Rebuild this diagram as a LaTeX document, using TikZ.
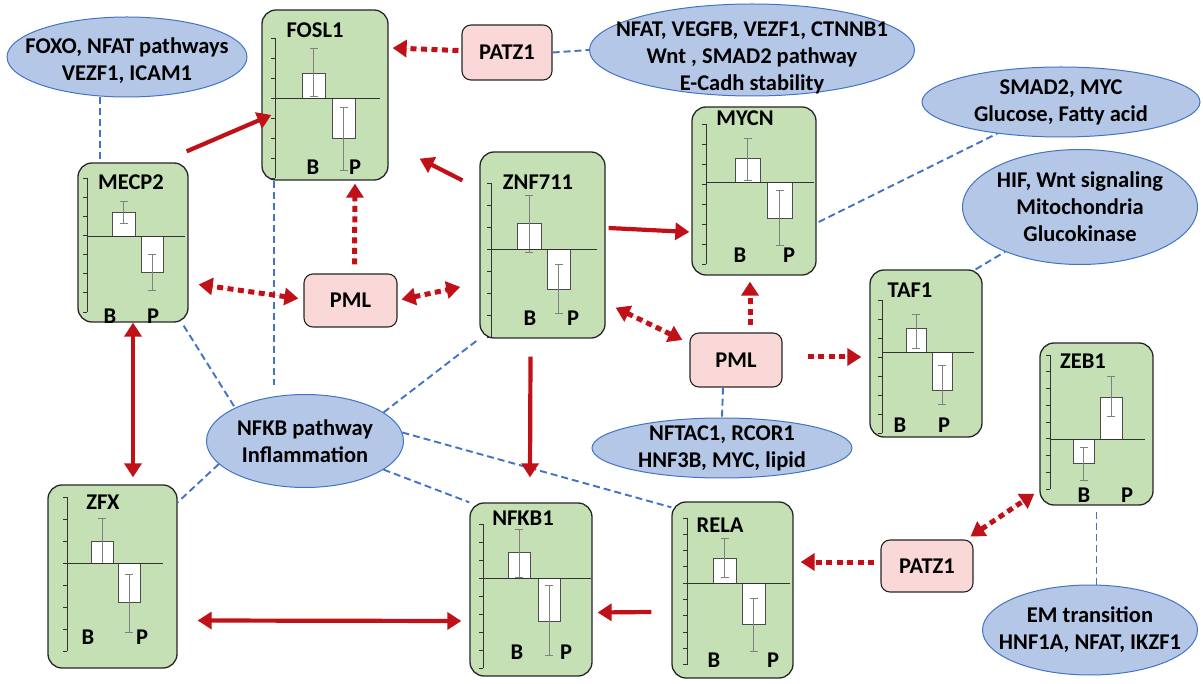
\documentclass[tikz,border=0pt]{standalone}
\usepackage{fontspec}
\setmainfont{Carlito}
\usepackage{tikz}
\usetikzlibrary{arrows.meta, shapes.geometric}
\definecolor{genegreen}{RGB}{197,224,180}
\definecolor{regpink}{RGB}{250,216,216}
\definecolor{pathfill}{RGB}{180,199,231}
\definecolor{pathblue}{RGB}{68,114,196}
\definecolor{arrowred}{RGB}{192,16,24}
\tikzset{
    gene/.style={draw=black!85, line width=1.3pt, rounded corners=14pt, fill=genegreen},
    reg/.style={draw=black!85, line width=1.1pt, rounded corners=9pt, fill=regpink},
    pathway/.style={ellipse, draw=pathblue, line width=1pt, fill=pathfill},
    pathtext/.style={align=center, inner sep=0pt},
    glabel/.style={inner sep=0pt},
    axisline/.style={line width=0.9pt, black!80},
    barbox/.style={draw=black!70, line width=0.9pt, fill=white},
    errbar/.style={line width=0.9pt, gray},
    >={Triangle[length=14pt,width=17pt]},
    act/.style={->, line width=4.2pt, draw=arrowred, fill=arrowred},
    actboth/.style={act, <->},
    dotact/.style={act, line width=5pt, dash pattern=on 6pt off 4.5pt},
    dotboth/.style={dotact, <->},
    link/.style={pathblue, line width=1.9pt, dash pattern=on 7pt off 4pt} }
% axis of a small chart: top, tick step, tick count, zero line length
\newcommand{\chartaxis}[4]{%
  \draw[axisline] (0,#1) -- (0,{#1+(#3-1)*#2});
  \foreach \k in {1,...,#3}
    \draw[axisline] (-4,{#1+(\k-1)*#2}) -- (0,{#1+(\k-1)*#2});
  \draw[axisline] (0,0) -- (#4,0);
}
% one bar: left, right, value, error from, error to
\newcommand{\chartbar}[5]{%
  \draw[barbox] (#1,0) rectangle (#2,#3);
  \draw[errbar] ({(#1+#2)/2},#4) -- ({(#1+#2)/2},#5);
  \draw[errbar] ({(#1+#2)/2-4},#4) -- ({(#1+#2)/2+4},#4);
  \draw[errbar] ({(#1+#2)/2-4},#5) -- ({(#1+#2)/2+4},#5);
}

\begin{document}
\begin{tikzpicture}[x=1pt, y=-1pt, font=\bfseries\fontsize{22.5}{27}\selectfont]
      \useasboundingbox (0,0) rectangle (1203,684);
      % ---- pathways
      \node[pathway, minimum width=240, minimum height=80,
            label={[pathtext, yshift=-4pt]center:{FOXO, NFAT pathways\\VEZF1, ICAM1}}] (foxo) at (127,57) {};
      \node[pathway, minimum width=325, minimum height=92,
            label={[pathtext, yshift=-8pt]center:{NFAT, VEGFB, VEZF1, CTNNB1\\Wnt , SMAD2 pathway\\E-Cadh stability}}] (wnt) at (752,50) {};
      \node[pathway, minimum width=278, minimum height=70,
            label={[pathtext]center:{SMAD2, MYC\\Glucose, Fatty acid}}] (smad) at (1061,102) {};
      \node[pathway, minimum width=235, minimum height=115,
            label={[pathtext]center:{HIF, Wnt signaling\\Mitochondria\\Glucokinase}}] (hif) at (1080,207) {};
      \node[pathway, minimum width=197, minimum height=93,
            label={[pathtext]center:{NFKB pathway\\Inflammation}}] (nfkb) at (305,441) {};
      \node[pathway, minimum width=260, minimum height=60,
            label={[pathtext]center:{NFTAC1, RCOR1\\HNF3B, MYC, lipid}}] (nftac) at (722,448) {};
      \node[pathway, minimum width=215, minimum height=90,
            label={[pathtext]center:{EM transition\\HNF1A, NFAT, IKZF1}}] (em) at (1090,630) {};
      % ---- regulators
      \node[reg, minimum width=90, minimum height=55] (PATZ1a) at (507,52.5) {PATZ1};
      \node[reg, minimum width=93, minimum height=53] (PMLa) at (350.5,300.5) {PML};
      \node[reg, minimum width=92, minimum height=54] (PMLb) at (736,360) {PML};
      \node[reg, minimum width=92, minimum height=52] (PATZ1b) at (927,566) {PATZ1};
      % ---- FOSL1
      \node[gene, minimum width=126, minimum height=170] (FOSL1) at (325,95) {};
      \node[glabel] (FOSL1-name) at (315,30) {FOSL1};
      \begin{scope}[shift={(275,98)}]
        \chartbar{27}{50}{-25}{-50}{-2}
        \chartbar{57}{80}{40}{9}{72}
        \chartaxis{-60}{20}{8}{105}
      \end{scope}
      \node[glabel] (FOSL1-B) at (313,167) {B};
      \node[glabel] (FOSL1-P) at (355,167) {P};
      % ---- MECP2
      \node[gene, minimum width=110, minimum height=159] (MECP2) at (133,242.5) {};
      \node[glabel] (MECP2-name) at (131,182) {MECP2};
      \begin{scope}[shift={(87,236)}]
        \chartbar{25}{48}{-24}{-35}{-13}
        \chartbar{54}{76}{36}{18}{54}
        \chartaxis{-58}{19.14}{8}{98}
      \end{scope}
      \node[glabel] (MECP2-B) at (110,316) {B};
      \node[glabel] (MECP2-P) at (153,316) {P};
      % ---- ZNF711
      \node[gene, minimum width=125, minimum height=186] (ZNF711) at (542.5,245) {};
      \node[glabel] (ZNF711-name) at (538,182) {ZNF711};
      \begin{scope}[shift={(491,249)}]
        \chartbar{26}{50}{-26}{-54}{3}
        \chartbar{56}{79}{40}{15}{64}
        \chartaxis{-66}{22}{8}{106}
      \end{scope}
      \node[glabel] (ZNF711-B) at (530,318) {B};
      \node[glabel] (ZNF711-P) at (573,318) {P};
      % ---- MYCN
      \node[gene, minimum width=124, minimum height=168] (MYCN) at (754,191) {};
      \node[glabel] (MYCN-name) at (745,118) {MYCN};
      \begin{scope}[shift={(706,182)}]
        \chartbar{29}{54}{-24}{-44}{-2}
        \chartbar{61}{86}{36}{8}{63}
        \chartaxis{-58}{20}{8}{108}
      \end{scope}
      \node[glabel] (MYCN-B) at (740,255) {B};
      \node[glabel] (MYCN-P) at (789,255) {P};
      % ---- TAF1
      \node[gene, minimum width=112, minimum height=167] (TAF1) at (926,353.5) {};
      \node[glabel] (TAF1-name) at (910,290) {TAF1};
      \begin{scope}[shift={(882,352)}]
        \chartbar{24}{44}{-24}{-38}{-4}
        \chartbar{50}{70}{38}{13}{52}
        \chartaxis{-52}{19}{8}{92}
      \end{scope}
      \node[glabel] (TAF1-B) at (900,425) {B};
      \node[glabel] (TAF1-P) at (944,425) {P};
      % ---- ZEB1
      \node[gene, minimum width=113, minimum height=162] (ZEB1) at (1096.5,424) {};
      \node[glabel] (ZEB1-name) at (1083,361) {ZEB1};
      \begin{scope}[shift={(1050,439)}]
        \chartbar{23}{44}{24}{8}{41}
        \chartbar{50}{72}{-42}{-63}{-23}
        \chartaxis{-84}{16.75}{9}{95}
      \end{scope}
      \node[glabel] (ZEB1-B) at (1084,495) {B};
      \node[glabel] (ZEB1-P) at (1127,495) {P};
      % ---- ZFX
      \node[gene, minimum width=129, minimum height=183] (ZFX) at (112.5,576.5) {};
      \node[glabel] (ZFX-name) at (103,502) {ZFX};
      \begin{scope}[shift={(67,563)}]
        \chartbar{24}{46}{-22}{-45}{0}
        \chartbar{51}{73}{39}{11}{69}
        \chartaxis{-66}{22}{8}{96}
      \end{scope}
      \node[glabel] (ZFX-B) at (88,637) {B};
      \node[glabel] (ZFX-P) at (142,637) {P};
      % ---- NFKB1
      \node[gene, minimum width=122, minimum height=173] (NFKB1) at (531,589.5) {};
      \node[glabel] (NFKB1-name) at (523,518) {NFKB1};
      \begin{scope}[shift={(483,578)}]
        \chartbar{25}{47}{-26}{-49}{-1}
        \chartbar{55}{77}{43}{7}{77}
        \chartaxis{-54}{18}{9}{108}
      \end{scope}
      \node[glabel] (NFKB1-B) at (517,652) {B};
      \node[glabel] (NFKB1-P) at (566,652) {P};
      % ---- RELA
      \node[gene, minimum width=121, minimum height=176] (RELA) at (732.5,590) {};
      \node[glabel] (RELA-name) at (720,525) {RELA};
      \begin{scope}[shift={(687,583)}]
        \chartbar{26}{49}{-25}{-45}{-6}
        \chartbar{55}{78}{41}{15}{68}
        \chartaxis{-65}{16.3}{10}{103}
      \end{scope}
      \node[glabel] (RELA-B) at (714,660) {B};
      \node[glabel] (RELA-P) at (773,660) {P};
      % ---- pathway links
      \coordinate (fosl1-foot) at ([xshift=13pt]FOSL1.south west);
      \draw[link] ([xshift=-27pt]foxo.south) -- ([xshift=-33pt]MECP2.north);
      \draw[link] (PATZ1a.east) -- (wnt.west);
      \draw[link] ([xshift=2pt,yshift=-31pt]MYCN.east) -- (smad);
      \draw[link] ([xshift=-7pt]TAF1.north east) -- (hif);
      \draw[link] ([xshift=-13pt]PMLb.south) -- (nftac.north);
      \draw[link] ([yshift=-6pt]ZEB1.south) -- (ZEB1.south |- em.north);
      \draw[link] ([xshift=-5pt,yshift=-3pt]MECP2.south east) -- (nfkb.north west);
      \draw[link, shorten >=9pt] (fosl1-foot) -- (fosl1-foot |- nfkb.north);
      \draw[link] (nfkb.20) -- (ZNF711.south west);
      \draw[link] (nfkb.-20) -- (NFKB1.north west);
      \draw[link] (nfkb.5) -- ([yshift=-6pt]RELA.north west);
      \draw[link] (nfkb.195) -- ([yshift=-18pt]ZFX.north east);
      % ---- solid arrows
      \draw[act] ([xshift=-2pt,yshift=11pt]MECP2.north east) -- ([xshift=10pt,yshift=-20pt]FOSL1.west);
      \draw[act] ([xshift=-17pt,yshift=-29pt]ZNF711.north west) -- ([xshift=31pt,yshift=22pt]FOSL1.south east);
      \draw[act] ([xshift=3pt,yshift=17pt]ZNF711.east) -- ([xshift=-2pt,yshift=-41pt]MYCN.west);
      \draw[act] ([xshift=-12pt,yshift=-18pt]ZNF711.south) -- ([xshift=-1pt,yshift=25pt]NFKB1.north);
      \draw[actboth, shorten >=7pt] (MECP2.south) -- (MECP2.south |- ZFX.north);
      \draw[actboth] ([xshift=20pt,yshift=-44pt]ZFX.east) -- ([xshift=-8pt,yshift=-31.5pt]NFKB1.west);
      \draw[act] ([xshift=-20pt,yshift=-22pt]RELA.west) -- ([xshift=5pt,yshift=-23pt]NFKB1.east);
      % ---- dotted arrows
      \draw[dotact] ([xshift=-3pt,yshift=2pt]PATZ1a.west) -- ([xshift=4pt,yshift=47pt]FOSL1.east);
      \draw[dotact] ([xshift=4pt,yshift=9pt]PMLa.north) -- ([xshift=30pt,yshift=-3pt]FOSL1.south);
      \draw[dotboth] ([xshift=-5pt,yshift=2pt]PMLa.west) -- ([xshift=10pt,yshift=-42pt]MECP2.east);
      \draw[dotboth] ([xshift=4pt,yshift=1pt]PMLa.east) -- ([xshift=-19pt,yshift=-42pt]ZNF711.west);
      \draw[dotboth] ([xshift=-7pt,yshift=20pt]PMLb.west) -- ([xshift=10pt,yshift=31pt]ZNF711.south east);
      \draw[dotact] ([xshift=14pt,yshift=7pt]PMLb.north) -- ([xshift=-4pt,yshift=-6pt]MYCN.south);
      \draw[dotact] ([xshift=25pt,yshift=3pt]PMLb.east) -- ([xshift=-8pt,yshift=-3.5pt]TAF1.west);
      \draw[dotact] ([xshift=-6pt,yshift=4pt]PATZ1b.west) -- ([xshift=7pt,yshift=28pt]RELA.east);
      \draw[dotboth] ([xshift=-3pt,yshift=3pt]PATZ1b.north east) -- ([xshift=-5pt,yshift=12pt]ZEB1.south west);
\end{tikzpicture}
\end{document}
